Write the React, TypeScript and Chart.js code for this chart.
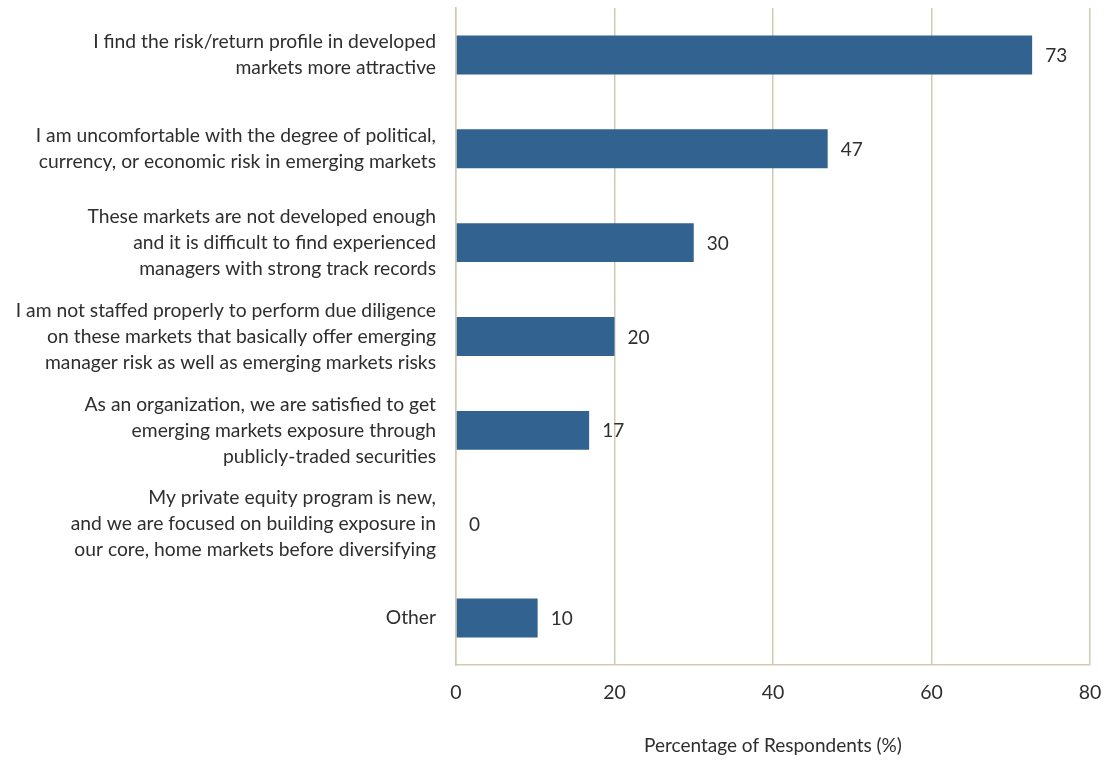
import React, { useEffect, useRef } from "react";
import { Chart, registerables } from "chart.js";

Chart.register(...registerables);

const categories: string[][] = [
  ["I find the risk/return profile in developed", "markets more attractive"],
  ["I am uncomfortable with the degree of political,", "currency, or economic risk in emerging markets"],
  ["These markets are not developed enough", "and it is difficult to find experienced", "managers with strong track records"],
  ["I am not staffed properly to perform due diligence", "on these markets that basically offer emerging", "manager risk as well as emerging markets risks"],
  ["As an organization, we are satisfied to get", "emerging markets exposure through", "publicly-traded securities"],
  ["My private equity program is new,", "and we are focused on building exposure in", "our core, home markets before diversifying"],
  ["Other"],
];
const values: number[] = [72.7, 46.9, 30, 20, 16.8, 0, 10.3];
const valueLabelsText: string[] = ["73", "47", "30", "20", "17", "0", "10"];
const xTicks: number[] = [0, 20, 40, 60, 80];
const xTitle = "Percentage of Respondents (%)";

const FONT = "Lato, 'Open Sans', sans-serif";
const TEXT = "#2e2e2e";
const GRID = "#d2c9b2";
const BAR = "#32628f";

const valueLabels = {
  id: "valueLabels",
  afterDatasetsDraw(chart: any) {
    const ctx = chart.ctx;
    const meta = chart.getDatasetMeta(0);
    ctx.save();
    ctx.font = `19px ${FONT}`;
    ctx.fillStyle = TEXT;
    ctx.textAlign = "left";
    ctx.textBaseline = "middle";
    meta.data.forEach((el: any, i: number) => {
      ctx.fillText(valueLabelsText[i], el.x + 13, el.y + 1);
    });
    ctx.restore();
  },
};

export default function App() {
  const ref = useRef<HTMLCanvasElement | null>(null);
  useEffect(() => {
    if (!ref.current) return;
    const chart = new Chart(ref.current, {
      type: "bar",
      data: {
        labels: categories,
        datasets: [
          {
            data: values,
            backgroundColor: BAR,
            borderWidth: 0,
            categoryPercentage: 1,
            barPercentage: 0.415,
          },
        ],
      },
      options: {
        indexAxis: "y",
        animation: false,
        responsive: true,
        maintainAspectRatio: false,
        layout: { padding: { left: 0, right: 28, top: 8, bottom: 0 } },
        plugins: {
          legend: { display: false },
          tooltip: { enabled: false },
        },
        scales: {
          x: {
            min: 0,
            max: 80,
            afterBuildTicks: (scale: any) => {
              scale.ticks = xTicks.map((v) => ({ value: v }));
            },
            afterFit: (scale: any) => {
              scale.height = 95;
            },
            grid: { color: GRID, lineWidth: 1.5, drawTicks: false },
            border: { color: GRID, width: 1.5 },
            ticks: {
              color: TEXT,
              font: { family: FONT, size: 19.5 },
              padding: 16,
            },
            title: {
              display: true,
              text: xTitle,
              color: TEXT,
              font: { family: FONT, size: 19 },
              padding: { top: 0, bottom: 3 },
            },
          },
          y: {
            afterFit: (scale: any) => {
              scale.width = 456;
              scale.paddingTop = 0;
              scale.paddingBottom = 0;
            },
            grid: { display: false, drawTicks: false },
            border: { color: GRID, width: 1.5 },
            ticks: {
              color: TEXT,
              font: { family: FONT, size: 19.3, lineHeight: 1.35 },
              padding: 20,
              autoSkip: false,
            },
          },
        },
      },
      plugins: [valueLabels],
    });
    return () => chart.destroy();
  }, []);
  return (
    <div style={{ position: "absolute", left: 0, top: 0, width: 1118, height: 760, background: "#fff" }}>
      <canvas ref={ref} />
    </div>
  );
}
